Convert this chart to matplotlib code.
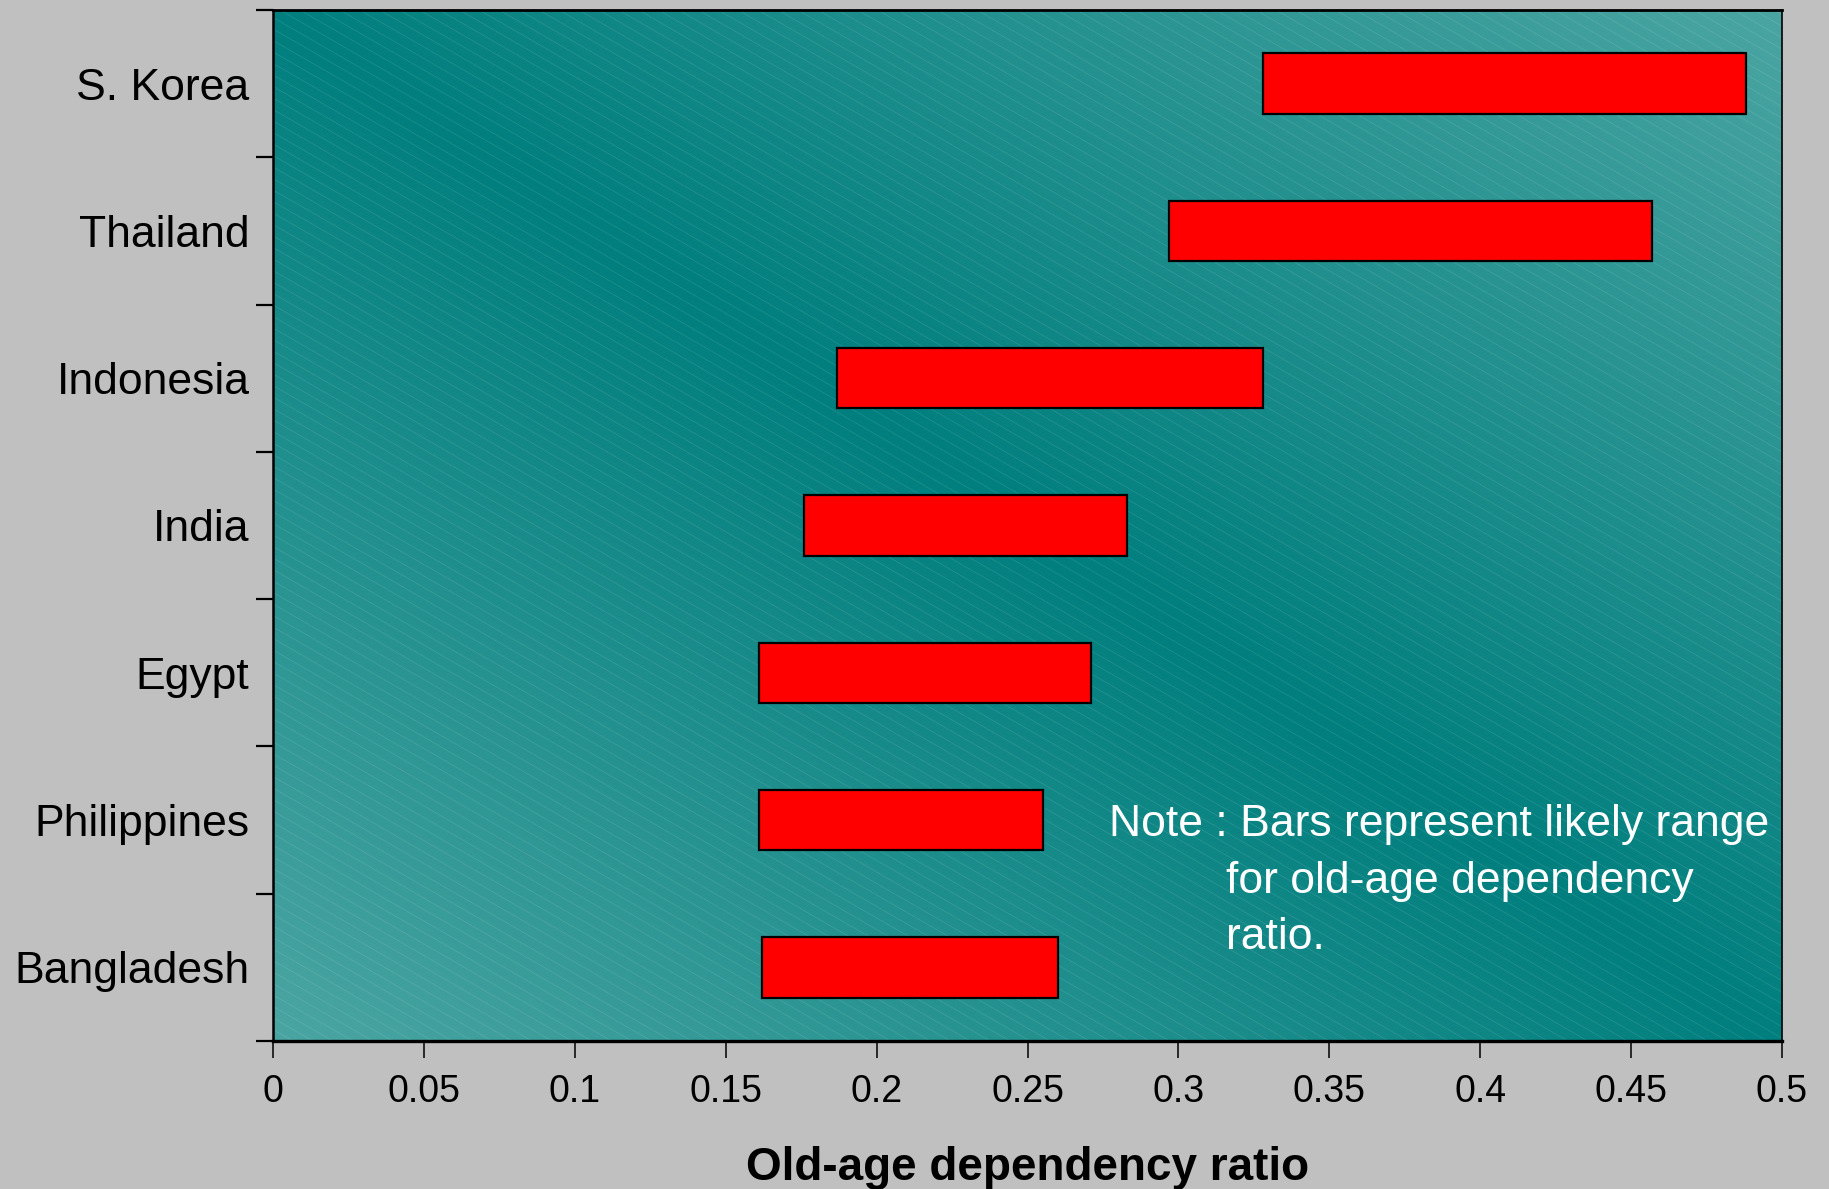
import numpy as np
import matplotlib
matplotlib.use("Agg")
import matplotlib.pyplot as plt
from matplotlib.collections import LineCollection
from matplotlib.colors import LinearSegmentedColormap

plt.rcParams['font.family'] = ['Liberation Sans', 'DejaVu Sans']

# likely range of the old-age dependency ratio per country (top to bottom)
countries = ['S. Korea', 'Thailand', 'Indonesia', 'India', 'Egypt', 'Philippines', 'Bangladesh']
range_low = [0.328, 0.297, 0.187, 0.176, 0.161, 0.161, 0.162]
range_high = [0.488, 0.457, 0.328, 0.283, 0.271, 0.255, 0.260]
xticks = [0, 0.05, 0.1, 0.15, 0.2, 0.25, 0.3, 0.35, 0.4, 0.45, 0.5]
note_lines = ['Note : Bars represent likely range', 'for old-age dependency', 'ratio.']

fig = plt.figure(figsize=(18.29, 11.89), dpi=100, facecolor='#c0c0c0')
ax = fig.add_axes([0.1493, 0.1245, 0.8250, 0.8671])

n = len(countries)
ypos = np.arange(n)[::-1]

# teal background: dark along the top-left/bottom-right diagonal, lighter at the other corners
u, v = np.meshgrid(np.linspace(0, 1, 600), np.linspace(1, 0, 400))
shade = np.abs(u + v - 1)
cmap = LinearSegmentedColormap.from_list('teal', ['#007f7e', '#4aa5a2'])
ax.imshow(shade, cmap=cmap, extent=[0, 1, 0, 1], transform=ax.transAxes,
          aspect='auto', zorder=0, interpolation='bilinear')

# faint diagonal stripes over the background
W, H = 1509.0, 1031.0
slope = np.tan(np.radians(30))
segs = []
for c in np.arange(0, H + slope * W, 11.5):
    segs.append([(0, c / H), (1, (c - slope * W) / H)])
stripes = LineCollection(segs, colors='white', linewidths=0.6, alpha=0.11,
                         transform=ax.transAxes, zorder=1)
ax.add_collection(stripes)

widths = [hi - lo for lo, hi in zip(range_low, range_high)]
ax.barh(ypos, widths, left=range_low, height=0.41, color='#ff0000',
        edgecolor='black', linewidth=1.6, zorder=3)

ax.text(0.2770, 0.895, note_lines[0], color='white', fontsize=32, zorder=4)
ax.text(0.3158, 0.508, note_lines[1], color='white', fontsize=32, zorder=4)
ax.text(0.3158, 0.123, note_lines[2], color='white', fontsize=32, zorder=4)

ax.set_xlim(0, 0.5)
ax.set_ylim(-0.5, n - 0.5)
ax.set_xticks(xticks)
ax.set_xticklabels([f'{t:g}' for t in xticks], fontsize=27)
ax.set_yticks(ypos)
ax.set_yticklabels(countries, fontsize=32)
ax.set_yticks(np.arange(-0.5, n, 1.0), minor=True)
ax.tick_params(axis='y', which='major', length=0, pad=17)
ax.tick_params(axis='y', which='minor', length=12, width=1.6, direction='out')
ax.tick_params(axis='x', length=12.5, width=1.1, direction='out', pad=11)
ax.set_xlabel('Old-age dependency ratio', fontsize=33, fontweight='bold', labelpad=26)

ax.spines['left'].set_linewidth(1.8)
ax.spines['bottom'].set_linewidth(2.4)
ax.spines['top'].set_linewidth(2.0)
ax.spines['right'].set_linewidth(1.2)
for s in ax.spines.values():
    s.set_zorder(5)

fig.savefig('out.png', dpi=100, facecolor=fig.get_facecolor())
